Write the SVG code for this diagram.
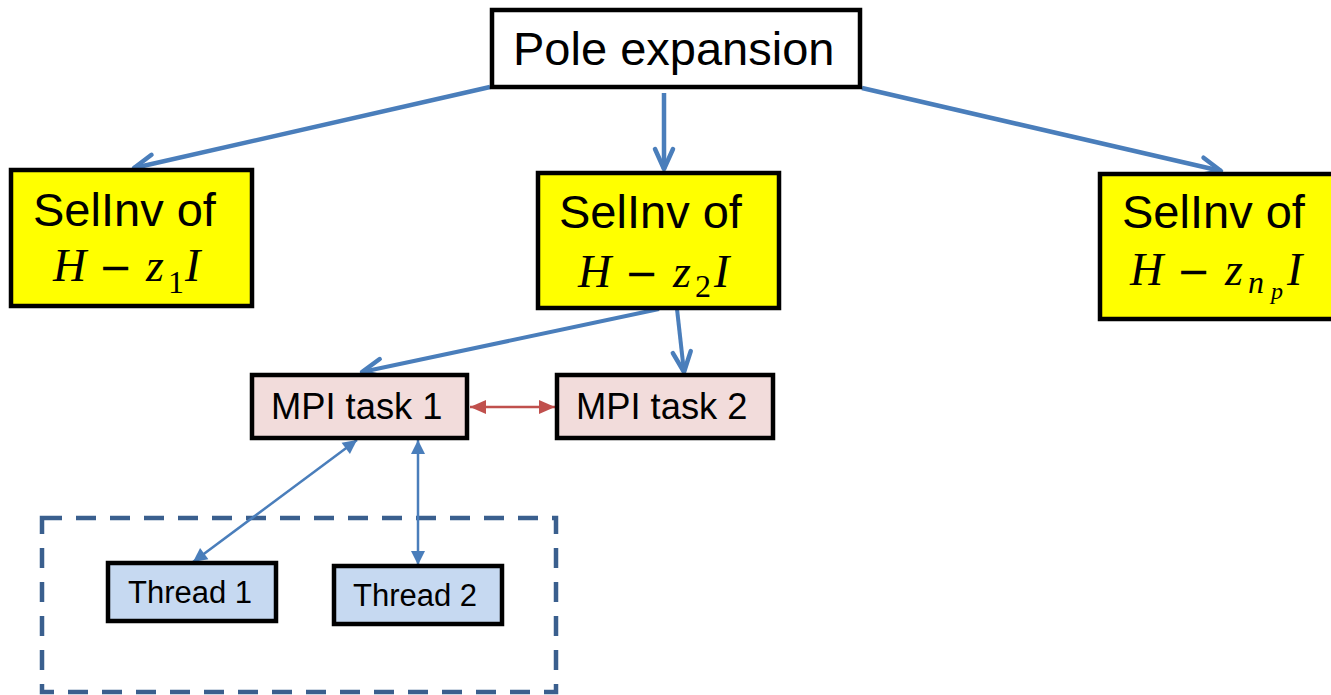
<svg xmlns="http://www.w3.org/2000/svg" width="1331" height="695" viewBox="0 0 1331 695">
<style>
.box{stroke:#000;stroke-width:4.5}
.lbl{font-family:"Liberation Sans",Arial,sans-serif;fill:#000}
.math{font-family:"Liberation Serif","Times New Roman",serif;font-style:italic;fill:#000}
.up{font-style:normal}
.minus{font-family:"DejaVu Sans",sans-serif;font-style:normal}
.blue{stroke:#4A7EBB;fill:none}
</style>
<defs>
<marker id="vOpen" markerUnits="userSpaceOnUse" viewBox="-26 -14 30 28" markerWidth="30" markerHeight="28" refX="0" refY="0" orient="auto">
<path d="M-20,-9 L0,0 L-20,9" fill="none" stroke="#4A7EBB" stroke-width="4.5" stroke-linecap="round" stroke-linejoin="round"/>
</marker>
<marker id="triBlue" markerUnits="userSpaceOnUse" viewBox="-15 -9 16 18" markerWidth="16" markerHeight="18" refX="0" refY="0" orient="auto-start-reverse">
<path d="M-14,-7 L0,0 L-14,7 Z" fill="#4A7EBB"/>
</marker>
<marker id="triRed" markerUnits="userSpaceOnUse" viewBox="-17 -9 18 18" markerWidth="18" markerHeight="18" refX="0" refY="0" orient="auto-start-reverse">
<path d="M-16,-7 L0,0 L-16,7 Z" fill="#C0504D"/>
</marker>
</defs>

<g id="thread-group">
<rect x="42" y="518" width="514" height="174" fill="none" stroke="#3A5F8E" stroke-width="4.5" stroke-dasharray="20 14"/>
</g>

<g id="connectors">
<line class="blue" x1="490" y1="87" x2="134" y2="168" stroke-width="4.5" marker-end="url(#vOpen)"/>
<line class="blue" x1="664" y1="93" x2="664" y2="169" stroke-width="4.5" marker-end="url(#vOpen)"/>
<line class="blue" x1="862" y1="88" x2="1221" y2="171" stroke-width="4.5" marker-end="url(#vOpen)"/>
<line class="blue" x1="659" y1="309" x2="362" y2="372" stroke-width="4" marker-end="url(#vOpen)"/>
<line class="blue" x1="677" y1="309" x2="684" y2="372" stroke-width="4" marker-end="url(#vOpen)"/>
<line x1="470" y1="407" x2="555" y2="407" stroke="#C0504D" stroke-width="2.5" marker-start="url(#triRed)" marker-end="url(#triRed)"/>
<line class="blue" x1="357" y1="440" x2="193" y2="562" stroke-width="2.5" marker-start="url(#triBlue)" marker-end="url(#triBlue)"/>
<line class="blue" x1="418" y1="440" x2="418" y2="565" stroke-width="2.5" marker-start="url(#triBlue)" marker-end="url(#triBlue)"/>
</g>

<g id="pole">
<rect class="box" x="492" y="10" width="368" height="77" fill="#FFFFFF"/>
<text class="lbl" x="513" y="65" font-size="47">Pole expansion</text>
</g>

<g id="selinv1">
<rect class="box" x="11" y="170" width="241" height="136" fill="#FFFF00"/>
<text class="lbl" x="33" y="226" font-size="47">SelInv of</text>
<text class="math" y="281" font-size="46"><tspan x="53">H</tspan><tspan class="minus" x="99" font-size="40">−</tspan><tspan x="146">z</tspan><tspan class="up" x="168" y="293" font-size="32">1</tspan><tspan x="185" y="281">I</tspan></text>
</g>

<g id="selinv2">
<rect class="box" x="538" y="173" width="241" height="135" fill="#FFFF00"/>
<text class="lbl" x="559" y="228" font-size="47">SelInv of</text>
<text class="math" y="287" font-size="46"><tspan x="578">H</tspan><tspan class="minus" x="625" font-size="40">−</tspan><tspan x="673">z</tspan><tspan class="up" x="695" y="297" font-size="32">2</tspan><tspan x="714" y="287">I</tspan></text>
</g>

<g id="selinv3">
<rect class="box" x="1100" y="174" width="260" height="145" fill="#FFFF00"/>
<text class="lbl" x="1122" y="228" font-size="47">SelInv of</text>
<text class="math" y="285" font-size="46"><tspan x="1130">H</tspan><tspan class="minus" x="1177" font-size="40">−</tspan><tspan x="1225">z</tspan><tspan x="1248" y="293" font-size="32">n</tspan><tspan x="1271" y="299" font-size="24">p</tspan><tspan x="1287" y="285">I</tspan></text>
</g>

<g id="mpi1">
<rect class="box" x="252" y="375" width="215" height="63" fill="#F2DCDB"/>
<text class="lbl" x="271" y="419" font-size="36.3">MPI task 1</text>
</g>

<g id="mpi2">
<rect class="box" x="557" y="375" width="216" height="63" fill="#F2DCDB"/>
<text class="lbl" x="576" y="419" font-size="36.3">MPI task 2</text>
</g>

<g id="thread1">
<rect class="box" x="108" y="563" width="168" height="58" fill="#C6D9F1"/>
<text class="lbl" x="128" y="603" font-size="31">Thread 1</text>
</g>

<g id="thread2">
<rect class="box" x="334" y="566" width="168" height="58" fill="#C6D9F1"/>
<text class="lbl" x="353" y="606" font-size="31">Thread 2</text>
</g>
</svg>
